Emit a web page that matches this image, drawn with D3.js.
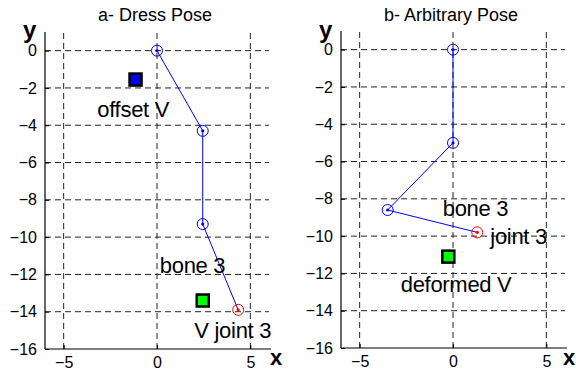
<!DOCTYPE html>
<html>
<head>
<meta charset="utf-8">
<script src="https://cdn.jsdelivr.net/npm/d3@7"></script>
<style>
  body { margin: 0; background: #fff; }
  text { font-family: "Liberation Sans", Arial, sans-serif; }
</style>
</head>
<body>
<script>
// tick values
const xTicks = [-5, 0, 5];
const yTicks = [0, -2, -4, -6, -8, -10, -12, -14, -16];

// a- dress pose : bone chain (last point is joint 3)
const dressX = [0, 2.45, 2.45, 4.35];
const dressY = [0, -4.3, -9.3, -13.9];
const dressOffsetV = [-1.15, -1.55];
const dressV = [2.45, -13.4];

// b- arbitrary pose
const arbX = [0, 0, -3.5, 1.3];
const arbY = [0, -5, -8.6, -9.8];
const arbDeformedV = [-0.25, -11.1];

const dressLabels = [
  { t: "offset V", x: -3.2, y: -3.55 },
  { t: "bone 3", x: 0.15, y: -11.9 },
  { t: "V joint 3", x: 2.0, y: -15.4 }
];
const arbLabels = [
  { t: "bone 3", x: -0.55, y: -8.9 },
  { t: "joint 3", x: 2.0, y: -10.4 },
  { t: "deformed V", x: -2.8, y: -13.0 }
];

const W = 576, H = 379;
const svg = d3.select("body").append("svg")
  .attr("width", W).attr("height", H);

function panel(opts) {
  const x = d3.scaleLinear().domain([-6, 6]).range([opts.left, opts.left + 224]);
  const y = d3.scaleLinear().domain([-16, 1]).range([opts.bottom, opts.bottom - 317]);
  const g = svg.append("g");

  // grid
  g.selectAll(".vg").data(xTicks).enter().append("line")
    .attr("x1", d => x(d)).attr("x2", d => x(d))
    .attr("y1", y(-16)).attr("y2", y(1))
    .attr("stroke", "#222").attr("stroke-width", 1)
    .attr("stroke-dasharray", "6,4");
  g.selectAll(".hg").data(yTicks.filter(d => d > -16)).enter().append("line")
    .attr("x1", x(-6)).attr("x2", x(6))
    .attr("y1", d => y(d)).attr("y2", d => y(d))
    .attr("stroke", "#222").attr("stroke-width", 1)
    .attr("stroke-dasharray", "6,4");

  // axes
  const ax = g.append("g")
    .attr("transform", `translate(0,${y(-16)})`)
    .call(d3.axisBottom(x).tickValues(xTicks).tickSize(-4).tickPadding(8));
  const ay = g.append("g")
    .attr("transform", `translate(${x(-6)},0)`)
    .call(d3.axisLeft(y).tickValues(yTicks).tickSize(-4).tickPadding(8));
  [ax, ay].forEach(a => {
    a.select(".domain").attr("stroke", "#000").attr("stroke-width", 1.2);
    a.selectAll(".tick line").attr("stroke", "#000");
    a.selectAll("text").attr("font-size", 16).attr("fill", "#000")
      .style("font-family", '"Liberation Sans", Arial, sans-serif');
  });
  ax.select(".domain").attr("d", `M${x(-6)},0H${x(6) + 2}`);
  ay.select(".domain").attr("d", `M0,${y(-16)}V${y(1)}`);

  // title and axis letters
  g.append("text").attr("x", (x(-6) + x(6)) / 2 - 2).attr("y", 21)
    .attr("text-anchor", "middle").attr("font-size", 18).text(opts.title);
  g.append("text").attr("x", x(-6) - 22).attr("y", 38)
    .attr("font-size", 24).attr("font-weight", "bold").text("y");
  g.append("text").attr("x", Math.min(x(6) + 1, W - 13)).attr("y", 365)
    .attr("font-size", 22).attr("font-weight", "bold").text("x");

  // bones
  const pts = opts.bx.map((d, i) => [d, opts.by[i]]);
  g.append("path")
    .attr("d", d3.line().x(d => x(d[0])).y(d => y(d[1]))(pts))
    .attr("fill", "none").attr("stroke", "#0000ff").attr("stroke-width", 1);
  pts.forEach((p, i) => {
    const c = i === pts.length - 1 ? "#ff0000" : "#0000ff";
    g.append("circle").attr("cx", x(p[0])).attr("cy", y(p[1])).attr("r", 5.5)
      .attr("fill", "none").attr("stroke", c).attr("stroke-width", 1);
    g.append("circle").attr("cx", x(p[0])).attr("cy", y(p[1])).attr("r", 1.6)
      .attr("fill", c);
  });

  // vertices
  opts.squares.forEach(s => {
    g.append("rect")
      .attr("x", x(s.p[0]) - 6).attr("y", y(s.p[1]) - 6)
      .attr("width", 12).attr("height", 12)
      .attr("fill", s.c).attr("stroke", "#000").attr("stroke-width", 2.5);
  });

  // labels
  g.selectAll(".lbl").data(opts.labels).enter().append("text")
    .attr("x", d => x(d.x)).attr("y", d => y(d.y))
    .attr("font-size", 22).attr("letter-spacing", -0.3).text(d => d.t);
}

panel({
  left: 45, bottom: 349, title: "a- Dress Pose",
  bx: dressX, by: dressY,
  squares: [{ p: dressOffsetV, c: "#0000ff" }, { p: dressV, c: "#00ff00" }],
  labels: dressLabels
});
panel({
  left: 341, bottom: 348, title: "b- Arbitrary Pose",
  bx: arbX, by: arbY,
  squares: [{ p: arbDeformedV, c: "#00ff00" }],
  labels: arbLabels
});
</script>
</body>
</html>
